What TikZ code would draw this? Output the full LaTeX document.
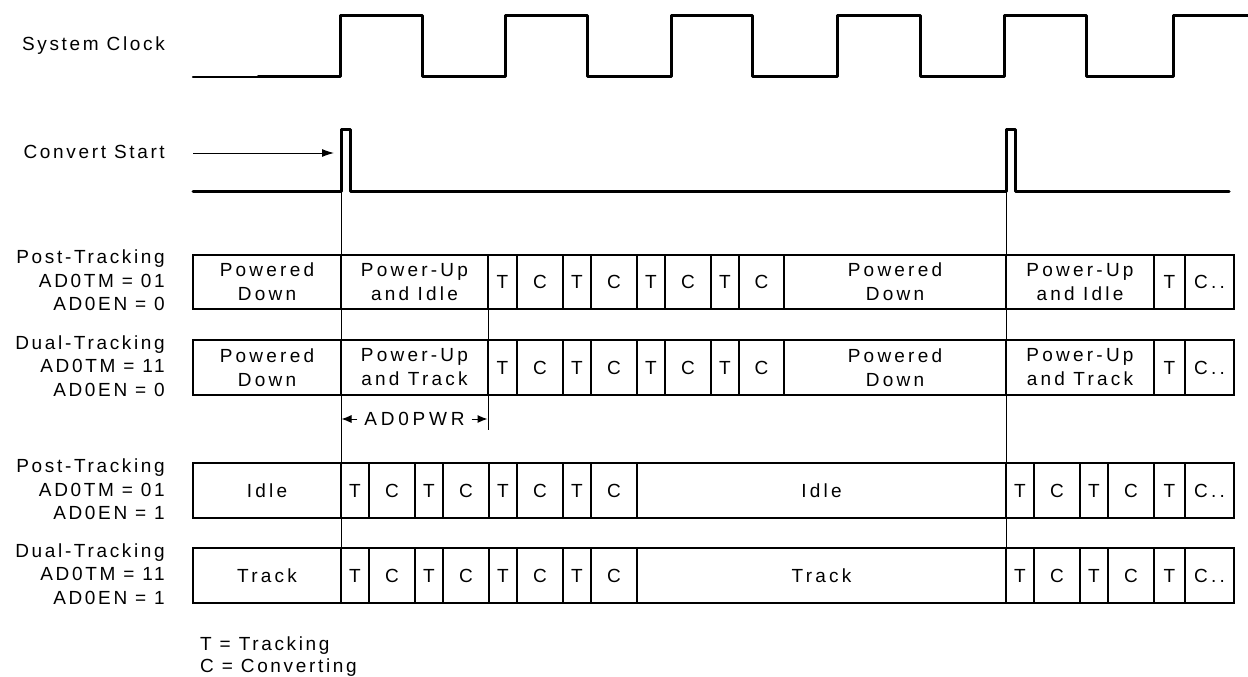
\documentclass[tikz,border=0pt]{standalone}
\usepackage{fontspec}
\setmainfont{Liberation Sans}[LetterSpace=14]
\newfontfamily\cellfont{Liberation Sans}[LetterSpace=17]
\newfontfamily\pwrfont{Liberation Sans}[LetterSpace=20]
\usetikzlibrary{arrows.meta}
\newcommand\rowcells[3]{%
  \foreach \a/\b/\t [count=\i] in {#3} {%
    \draw[cellbox] (\a,#1) rectangle (\b,#2);
    \node[txt] (c#1-\i) at ({(\a+\b)/2},{(#1+#2)/2}) {\t};
  }}
\begin{document}
\begin{tikzpicture}[x=1pt,y=-1pt,
  lbl/.style={font=\fontsize{19}{23.5}\selectfont, align=right, inner sep=0pt},
  txt/.style={font=\cellfont\fontsize{19}{24}\selectfont, align=center, inner sep=0pt},
  sig/.style={line width=3pt, line join=round, line cap=round},
  cellbox/.style={draw, line width=1.2pt},
  vline/.style={line width=1pt},
  tip/.style={-{Latex[length=10pt,width=8pt]}, line width=1pt}]
\useasboundingbox (0,0) rectangle (1248,677);
% labels
\node[lbl, anchor=base east] (lclk) at (165,51) {System Clock};
\node[lbl, anchor=base east] (lcs) at (165,158) {Convert Start};
\node[lbl, anchor=east] (l1) at (165,280.5) {Post-Tracking\\AD0TM = 01\\AD0EN = 0};
\node[lbl, anchor=east] (l2) at (165,366) {Dual-Tracking\\AD0TM = 11\\AD0EN = 0};
\node[lbl, anchor=east] (l3) at (165,489.5) {Post-Tracking\\AD0TM = 01\\AD0EN = 1};
\node[lbl, anchor=east] (l4) at (165,574) {Dual-Tracking\\AD0TM = 11\\AD0EN = 1};
% clock
\draw[line width=2.2pt, line cap=round] (193,77) -- (258,77);
\draw[sig] (258,77) -- (340,77) -- (340,16) -- (422,16) -- (422,77) -- (505,77) -- (505,16)
  -- (587,16) -- (587,77) -- (671,77) -- (671,16) -- (752,16) -- (752,77) -- (837,77)
  -- (837,16) -- (920,16) -- (920,77) -- (1004,77) -- (1004,16) -- (1086,16) -- (1086,77)
  -- (1173,77) -- (1173,16) -- (1252,16);
% convert start
\draw[sig] (193,191) -- (341,191) -- (341,129) -- (350,129) -- (350,191) -- (1006,191)
  -- (1006,129) -- (1015,129) -- (1015,191) -- (1229,191);
\coordinate (csa) at (334,153);
\draw[line width=1pt, -{Latex[length=12pt,width=8pt]}] (193,153) -- (csa);
% vertical markers
\draw[vline] (341,191) -- (341,603);
\draw[vline] (1006,191) -- (1006,603);
\draw[vline] (488,255) -- (488,430);
% rows
\rowcells{255}{309}{193/341/{Powered\\Down}, 341/488/{Power-Up\\and Idle}, 488/517/T, 517/563/C, 563/591/T, 591/637/C, 637/665/T, 665/711/C, 711/739/T, 739/784/C, 784/1006/{Powered\\Down}, 1006/1154/{Power-Up\\and Idle}, 1154/1185/T, 1185/1234/C..}
\rowcells{340}{395}{193/341/{Powered\\Down}, 341/488/{Power-Up\\and Track}, 488/517/T, 517/563/C, 563/591/T, 591/637/C, 637/665/T, 665/711/C, 711/739/T, 739/784/C, 784/1006/{Powered\\Down}, 1006/1154/{Power-Up\\and Track}, 1154/1185/T, 1185/1234/C..}
\rowcells{463}{518}{193/341/Idle, 341/369/T, 369/415/C, 415/443/T, 443/489/C, 489/517/T, 517/563/C, 563/591/T, 591/637/C, 637/1006/Idle, 1006/1034/T, 1034/1080/C, 1080/1108/T, 1108/1154/C, 1154/1185/T, 1185/1234/C..}
\rowcells{548}{603}{193/341/Track, 341/369/T, 369/415/C, 415/443/T, 443/489/C, 489/517/T, 517/563/C, 563/591/T, 591/637/C, 637/1006/Track, 1006/1034/T, 1034/1080/C, 1080/1108/T, 1108/1154/C, 1154/1185/T, 1185/1234/C..}
% AD0PWR
\node[font=\pwrfont\fontsize{19}{24}\selectfont, inner sep=0pt, minimum width=114pt] (pwr) at (414.5,419) {AD0PWR};
\coordinate (pwrl) at (341.5,419);
\coordinate (pwrr) at (487.5,419);
\draw[tip] (pwr.west) -- (pwrl);
\draw[tip] (pwr.east) -- (pwrr);
% legend
\node[lbl, anchor=base west] (lg1) at (200,650) {T = Tracking};
\node[lbl, anchor=base west] (lg2) at (200,672) {C = Converting};
\end{tikzpicture}
\end{document}
